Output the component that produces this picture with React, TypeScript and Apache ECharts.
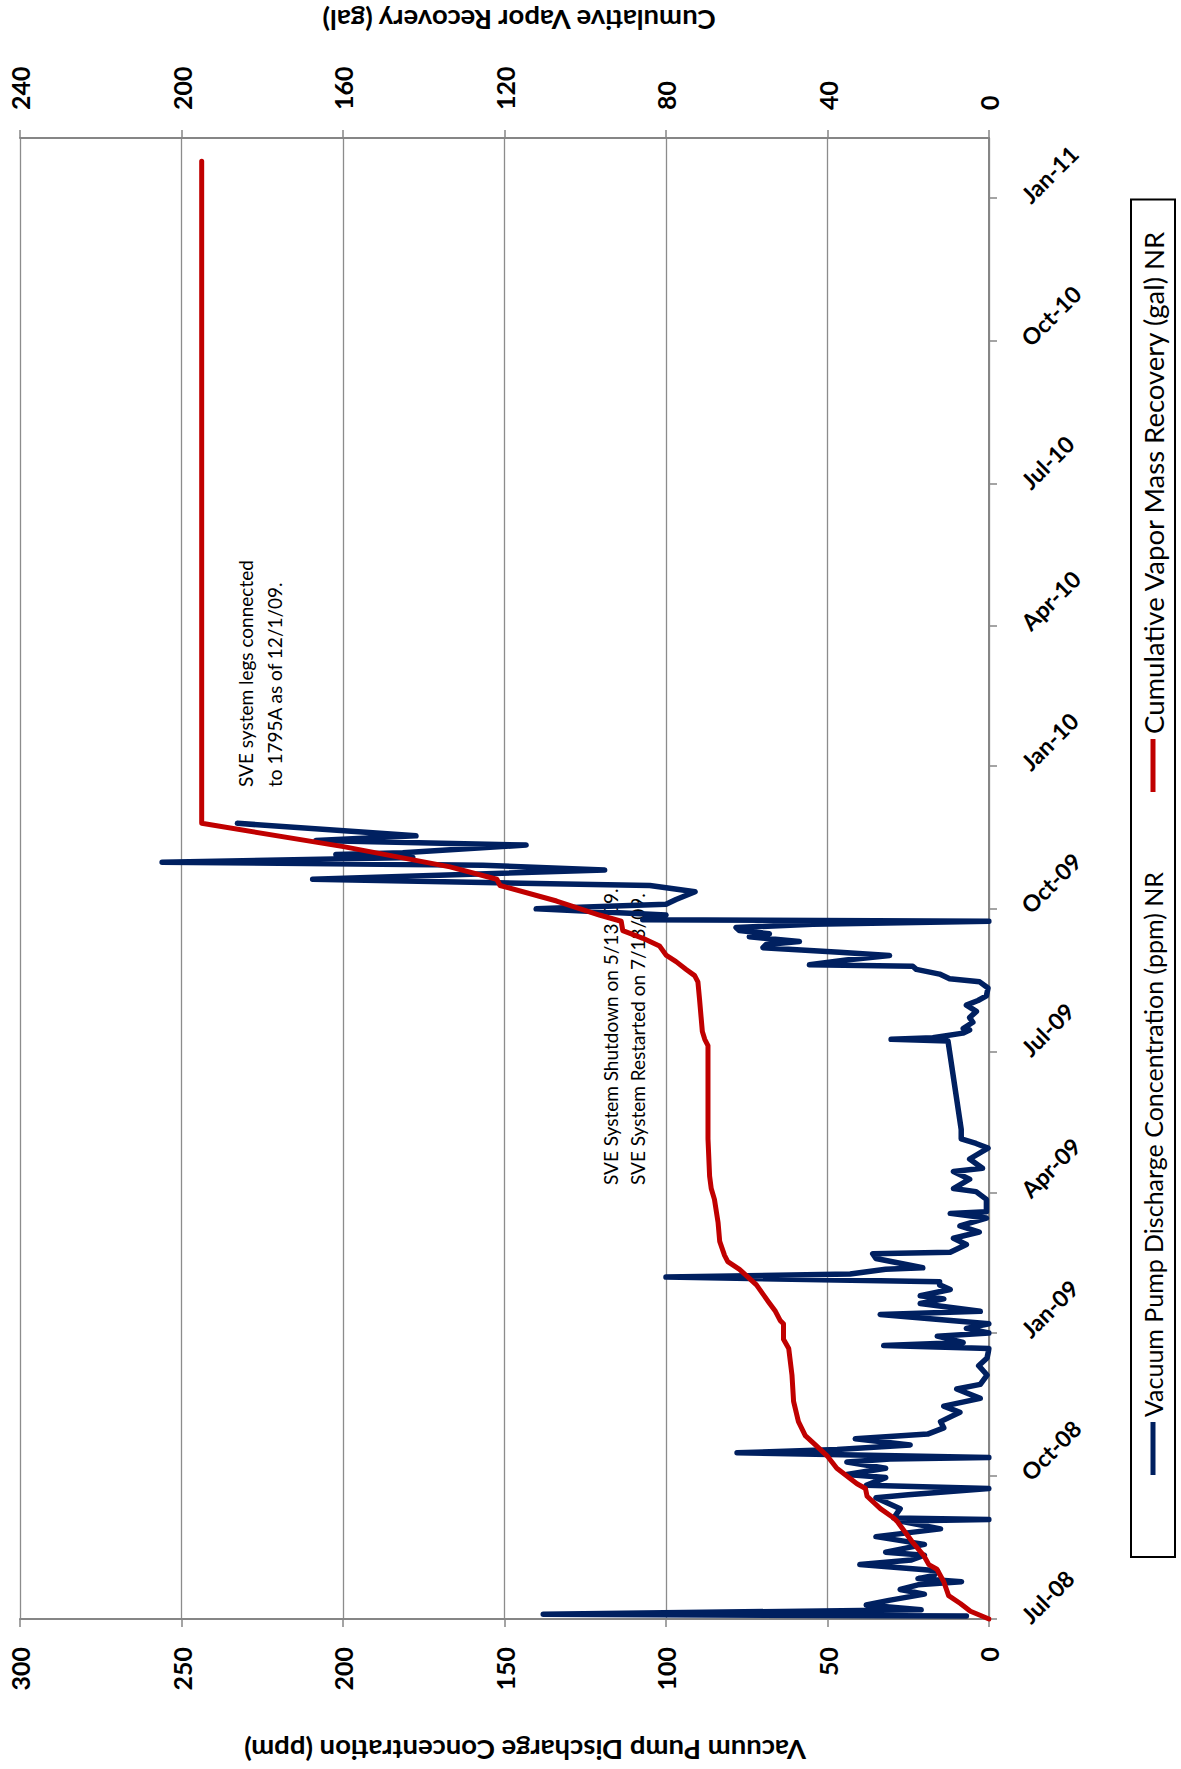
import React, { useEffect, useRef } from "react";
import * as echarts from "echarts";

// Quarter ticks on the date axis
const quarterDates = [
  "2008-07-01", "2008-10-01", "2009-01-01", "2009-04-01", "2009-07-01", "2009-10-01",
  "2010-01-01", "2010-04-01", "2010-07-01", "2010-10-01", "2011-01-01",
];
const quarterLabels = [
  "Jul-08", "Oct-08", "Jan-09", "Apr-09", "Jul-09", "Oct-09",
  "Jan-10", "Apr-10", "Jul-10", "Oct-10", "Jan-11",
];
const dateMin = "2008-07-01";
const dateMax = "2011-02-09";

// Vacuum pump discharge concentration (ppm)
const ppmDates = [
  "2008-07-03", "2008-07-04", "2008-07-07", "2008-07-10", "2008-07-13", "2008-07-17", "2008-07-20",
  "2008-07-23", "2008-07-25", "2008-07-27", "2008-07-29", "2008-08-01", "2008-08-05", "2008-08-08",
  "2008-08-11", "2008-08-13", "2008-08-18", "2008-08-23", "2008-08-28", "2008-09-02", "2008-09-03",
  "2008-09-04", "2008-09-10", "2008-09-17", "2008-09-19", "2008-09-23", "2008-09-25", "2008-09-30",
  "2008-10-02", "2008-10-06", "2008-10-10", "2008-10-12", "2008-10-13", "2008-10-16", "2008-10-18",
  "2008-10-21", "2008-10-25", "2008-10-28", "2008-11-01", "2008-11-05", "2008-11-11", "2008-11-15",
  "2008-11-20", "2008-11-26", "2008-11-29", "2008-12-05", "2008-12-11", "2008-12-16", "2008-12-22",
  "2008-12-24", "2008-12-26", "2008-12-30", "2009-01-01", "2009-01-04", "2009-01-07", "2009-01-13",
  "2009-01-15", "2009-01-20", "2009-01-23", "2009-01-25", "2009-01-29", "2009-02-01", "2009-02-03",
  "2009-02-06", "2009-02-08", "2009-02-11", "2009-02-12", "2009-02-18", "2009-02-21", "2009-02-22",
  "2009-02-27", "2009-03-03", "2009-03-07", "2009-03-11", "2009-03-16", "2009-03-19", "2009-03-20",
  "2009-03-28", "2009-04-02", "2009-04-04", "2009-04-10", "2009-04-15", "2009-04-17", "2009-04-23",
  "2009-04-30", "2009-05-03", "2009-05-06", "2009-05-12", "2009-07-08", "2009-07-09", "2009-07-10",
  "2009-07-13", "2009-07-15", "2009-07-16", "2009-07-20", "2009-07-23", "2009-07-27", "2009-07-31",
  "2009-08-03", "2009-08-06", "2009-08-11", "2009-08-15", "2009-08-17", "2009-08-20", "2009-08-23",
  "2009-08-25", "2009-08-26", "2009-08-29", "2009-09-01", "2009-09-03", "2009-09-06", "2009-09-08",
  "2009-09-10", "2009-09-13", "2009-09-15", "2009-09-17", "2009-09-19", "2009-09-21", "2009-09-23",
  "2009-09-24", "2009-09-27", "2009-10-01", "2009-10-04", "2009-10-07", "2009-10-12", "2009-10-16",
  "2009-10-20", "2009-10-26", "2009-10-29", "2009-10-31", "2009-11-03", "2009-11-05", "2009-11-06",
  "2009-11-11", "2009-11-14", "2009-11-17", "2009-11-25",
];
const ppmValues = [
  7, 138, 21, 38, 31, 20, 27.5,
  22, 8.5, 22, 17, 16, 40, 24,
  20, 32, 20, 35, 15, 27.5, 0,
  29.5, 27.5, 35, 25, 0, 38, 32,
  44, 32, 44, 30.6, 0, 78, 47,
  24.4, 41.4, 19, 14, 15, 9, 14,
  2.7, 10, 2.7, 0.6, 3.2, 0.6, 0,
  32.6, 8, 16, 0, 7, 0, 33.7,
  2.7, 21.3, 14, 21.3, 12, 15.3, 15.3,
  100, 43, 32, 20.5, 35, 36, 12,
  7, 11, 3, 9, 0.8, 12, 0.8,
  0.8, 4, 11, 6, 11, 2, 6,
  0.3, 4, 8.6, 8.6, 12.7, 30.3, 17.4,
  8.1, 6, 8, 5, 6, 3.9, 7,
  3.4, 0.8, 0.3, 2.9, 12.2, 15.3, 22.5,
  23.6, 55.6, 44.2, 30.8, 46.3, 70, 69,
  58.7, 74.2, 68, 77.3, 78.3, 54.5, 0,
  107.2, 100, 140.2, 100, 96.9, 91, 105,
  209.4, 119, 156.7, 256, 178.4, 202.2, 181.5,
  143.3, 208.4, 177.4, 232.7,
];

// Cumulative vapor mass recovery (gal)
const galDates = [
  "2008-07-01", "2008-07-06", "2008-07-11", "2008-07-16", "2008-07-25", "2008-08-02", "2008-08-05",
  "2008-08-11", "2008-08-20", "2008-09-02", "2008-09-04", "2008-09-10", "2008-09-18", "2008-09-23",
  "2008-09-26", "2008-10-06", "2008-10-14", "2008-10-21", "2008-10-27", "2008-11-05", "2008-11-18",
  "2008-12-05", "2008-12-22", "2008-12-28", "2009-01-07", "2009-01-09", "2009-01-15", "2009-01-21",
  "2009-02-01", "2009-02-07", "2009-02-11", "2009-02-16", "2009-02-20", "2009-03-01", "2009-03-13",
  "2009-03-28", "2009-04-04", "2009-04-12", "2009-05-06", "2009-05-13", "2009-07-05", "2009-07-09",
  "2009-07-14", "2009-08-04", "2009-08-15", "2009-08-19", "2009-08-23", "2009-08-28", "2009-09-01",
  "2009-09-07", "2009-09-12", "2009-09-17", "2009-09-23", "2009-09-27", "2009-10-06", "2009-10-16",
  "2009-10-20", "2009-10-28", "2009-11-10", "2009-11-25", "2011-01-25",
];
const galValues = [
  0, 4.6, 7.1, 10, 11.2, 12.9, 14.9,
  16.2, 19.1, 22.8, 23.6, 26.9, 30.2, 30.6,
  32.7, 37.7, 40.1, 43, 45.5, 47.2, 48.4,
  48.8, 49.6, 50.9, 50.9, 51.7, 52.9, 54.6,
  57.6, 60.1, 61.8, 64.7, 65.5, 66.7, 67.1,
  68, 68.8, 69.2, 69.6, 69.6, 69.6, 70.4,
  71, 71.7, 72.1, 72.9, 75, 77.5, 79.9,
  81.6, 85.7, 90.7, 91.1, 96.5, 107.1, 121.1,
  121.9, 133.5, 159.9, 195, 195,
];

const ppmName = "Vacuum Pump Discharge Concentration (ppm) NR";
const galName = "Cumulative Vapor Mass Recovery (gal) NR";

const pairs = (dates: string[], values: number[]) =>
  dates.map((d, i) => [Date.parse(d), values[i]]);

const quarterTimes = quarterDates.map((d) => Date.parse(d));

const AXIS_GREY = "#868686";
const FONT = "Lato";

function buildOption() {
  const axisLabelBold = { fontFamily: FONT, fontWeight: "bold" as const, color: "#000" };
  return {
    animation: false,
    backgroundColor: "#ffffff",
    grid: { left: 150, right: 138, top: 20, bottom: 192 },
    legend: {
      left: 212,
      top: 1131,
      padding: [8, 30, 8, 82],
      itemGap: 80,
      itemWidth: 53,
      itemHeight: 5,
      icon: "rect",
      borderColor: "#000",
      borderWidth: 2,
      formatter: (name: string) => (name === ppmName ? `{b|${name}}` : `{r|${name}}`),
      textStyle: {
        fontFamily: FONT,
        fontSize: 25,
        color: "#000",
        rich: {
          b: { fontFamily: FONT, fontSize: 25, color: "#000" },
          r: { fontFamily: FONT, fontSize: 27.5, color: "#000" },
        },
      },
      data: [ppmName, galName],
    },
    xAxis: {
      type: "value",
      min: Date.parse(dateMin),
      max: Date.parse(dateMax),
      axisLine: { show: true, lineStyle: { color: AXIS_GREY, width: 2 } },
      axisTick: {
        show: true,
        length: 8,
        customValues: quarterTimes,
        lineStyle: { color: AXIS_GREY, width: 1.5 },
      },
      axisLabel: {
        ...axisLabelBold,
        customValues: quarterTimes,
        rotate: -45,
        margin: 36,
        fontSize: 23,
        formatter: (v: number) => {
          const i = quarterTimes.indexOf(v);
          return i >= 0 ? quarterLabels[i] : "";
        },
      },
      splitLine: { show: false },
    },
    yAxis: [
      {
        type: "value",
        min: 0,
        max: 300,
        interval: 50,
        position: "left",
        axisLine: { show: true, lineStyle: { color: AXIS_GREY, width: 2 } },
        axisTick: { show: true, length: 8, lineStyle: { color: AXIS_GREY, width: 1.5 } },
        axisLabel: { ...axisLabelBold, fontSize: 25, margin: 28 },
        splitLine: { show: true, lineStyle: { color: "#8c8c8c", width: 1.3 } },
      },
      {
        type: "value",
        min: 0,
        max: 240,
        interval: 40,
        position: "right",
        axisLine: { show: true, lineStyle: { color: AXIS_GREY, width: 2 } },
        axisTick: { show: true, length: 8, lineStyle: { color: AXIS_GREY, width: 1.5 } },
        axisLabel: { ...axisLabelBold, fontSize: 25, margin: 28 },
        splitLine: { show: false },
      },
    ],
    graphic: [
      {
        type: "text",
        x: 19,
        y: 525,
        rotation: Math.PI / 2,
        style: {
          text: "Vacuum Pump Discharge Concentration (ppm)",
          fontFamily: FONT,
          fontWeight: "bold",
          fontSize: 27.5,
          fill: "#000",
          align: "center",
          verticalAlign: "middle",
        },
      },
      {
        type: "text",
        x: 1749,
        y: 519,
        rotation: Math.PI / 2,
        style: {
          text: "Cumulative Vapor Recovery (gal)",
          fontFamily: FONT,
          fontWeight: "bold",
          fontSize: 27.5,
          fill: "#000",
          align: "center",
          verticalAlign: "middle",
        },
      },
      {
        type: "text",
        x: 584,
        y: 597,
        style: {
          text: "SVE System Shutdown on 5/13/09.\nSVE System Restarted on 7/13/09.",
          fontFamily: FONT,
          fontSize: 19,
          lineHeight: 27,
          fill: "#000",
          align: "left",
          verticalAlign: "top",
        },
      },
      {
        type: "text",
        x: 982,
        y: 231,
        style: {
          text: "SVE system legs connected\nto 1795A as of 12/1/09.",
          fontFamily: FONT,
          fontSize: 19,
          lineHeight: 29,
          fill: "#000",
          align: "left",
          verticalAlign: "top",
        },
      },
    ],
    series: [
      {
        name: ppmName,
        type: "line",
        yAxisIndex: 0,
        data: pairs(ppmDates, ppmValues),
        showSymbol: false,
        symbol: "none",
        color: "#002060",
        lineStyle: { width: 5.5, color: "#002060", cap: "round", join: "round" },
      },
      {
        name: galName,
        type: "line",
        yAxisIndex: 1,
        data: pairs(galDates, galValues),
        showSymbol: false,
        symbol: "none",
        color: "#C00000",
        lineStyle: { width: 5, color: "#C00000", cap: "round", join: "round" },
      },
    ],
  };
}

export default function App() {
  const ref = useRef<HTMLDivElement>(null);
  useEffect(() => {
    if (!ref.current) return;
    const chart = echarts.init(ref.current, null, { renderer: "svg" });
    chart.setOption(buildOption() as any);
    return () => chart.dispose();
  }, []);
  return (
    <div
      style={{
        position: "absolute",
        left: 0,
        top: 0,
        width: 1181,
        height: 1769,
        overflow: "hidden",
        background: "#fff",
      }}
    >
      {/* The chart is laid out landscape and turned a quarter turn counter-clockwise */}
      <div
        ref={ref}
        style={{
          position: "absolute",
          left: 0,
          top: 0,
          width: 1769,
          height: 1181,
          transformOrigin: "0 0",
          transform: "translate(0px, 1769px) rotate(-90deg)",
        }}
      />
    </div>
  );
}
